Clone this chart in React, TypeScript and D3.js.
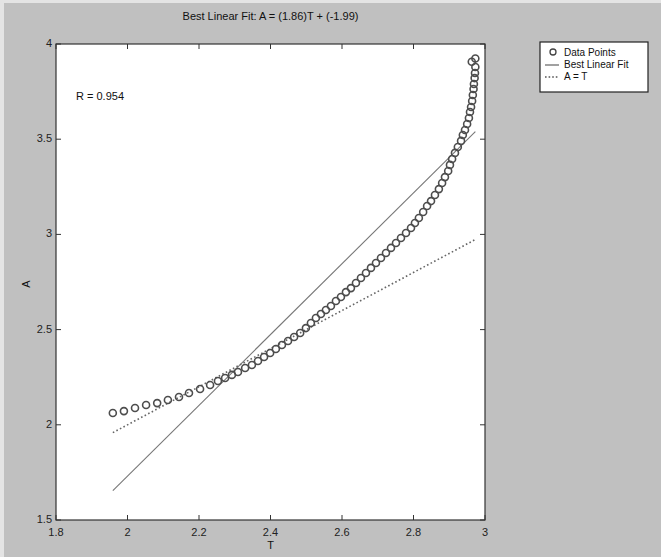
import React from "react";
import * as d3 from "d3";

// Target values T and network outputs A
const targetT = [
  1.959, 1.990, 2.021, 2.052, 2.083, 2.113, 2.144, 2.172, 2.203, 2.231,
  2.253, 2.273, 2.292, 2.309, 2.329, 2.348, 2.365, 2.382, 2.399, 2.415,
  2.432, 2.449, 2.466, 2.483, 2.499, 2.513, 2.527, 2.541, 2.555, 2.569,
  2.583, 2.597, 2.611, 2.625, 2.639, 2.653, 2.667, 2.681, 2.695, 2.709,
  2.723, 2.737, 2.751, 2.765, 2.779, 2.793, 2.804, 2.815, 2.827, 2.838,
  2.849, 2.860, 2.871, 2.880, 2.888, 2.897, 2.902, 2.908, 2.916, 2.924,
  2.933, 2.938, 2.944, 2.950, 2.955, 2.958, 2.961, 2.964, 2.966, 2.968,
  2.969, 2.971, 2.972, 2.973, 2.973, 2.963,
];
const outputA = [
  2.062, 2.072, 2.088, 2.104, 2.114, 2.130, 2.146, 2.167, 2.188, 2.209,
  2.230, 2.246, 2.262, 2.277, 2.298, 2.314, 2.335, 2.356, 2.377, 2.398,
  2.419, 2.440, 2.461, 2.482, 2.508, 2.535, 2.561, 2.582, 2.603, 2.624,
  2.650, 2.671, 2.697, 2.718, 2.745, 2.771, 2.797, 2.824, 2.850, 2.876,
  2.902, 2.929, 2.955, 2.981, 3.007, 3.034, 3.060, 3.086, 3.118, 3.149,
  3.175, 3.207, 3.238, 3.270, 3.301, 3.333, 3.365, 3.396, 3.428, 3.459,
  3.491, 3.522, 3.548, 3.580, 3.611, 3.643, 3.669, 3.701, 3.732, 3.764,
  3.790, 3.821, 3.848, 3.879, 3.924, 3.907,
];

const fitSlope = 1.86;
const fitIntercept = -1.99;
const rValue = 0.954;

const xTicks = [1.8, 2, 2.2, 2.4, 2.6, 2.8, 3];
const yTicks = [1.5, 2, 2.5, 3, 3.5, 4];
const legendItems = ["Data Points", "Best Linear Fit", "A = T"];

const W = 661;
const H = 557;
const plot = { left: 56, right: 485, top: 44, bottom: 520 };
const FONT = "'Liberation Sans', Arial, sans-serif";

export default function App() {
  const x = d3.scaleLinear().domain([1.8, 3]).range([plot.left, plot.right]);
  const y = d3.scaleLinear().domain([1.5, 4]).range([plot.bottom, plot.top]);

  const tMin = d3.min(targetT) as number;
  const tMax = d3.max(targetT) as number;
  const line = d3
    .line<[number, number]>()
    .x((d) => x(d[0]))
    .y((d) => y(d[1]));
  const fitPath = line([
    [tMin, fitSlope * tMin + fitIntercept],
    [tMax, fitSlope * tMax + fitIntercept],
  ]);
  const idPath = line([
    [tMin, tMin],
    [tMax, tMax],
  ]);

  const fmt = (v: number) => String(v);
  const tickLen = 5;
  const lx = 540;
  const ly = 42;

  return (
    <svg
      width={W}
      height={H}
      style={{ position: "absolute", left: 0, top: 0 }}
      fontFamily={FONT}
    >
      <rect x={0} y={0} width={W} height={H} fill="#e4e4e4" />
      <rect x={4} y={3} width={W - 4} height={H - 3} fill="#c0c0c0" />

      {/* axes box */}
      <rect
        x={plot.left}
        y={plot.top}
        width={plot.right - plot.left}
        height={plot.bottom - plot.top}
        fill="#ffffff"
        stroke="#333"
        strokeWidth={1.2}
      />

      {/* ticks and tick labels */}
      {xTicks.map((t) => (
        <g key={"x" + t}>
          <line x1={x(t)} x2={x(t)} y1={plot.bottom} y2={plot.bottom - tickLen} stroke="#333" />
          <line x1={x(t)} x2={x(t)} y1={plot.top} y2={plot.top + tickLen} stroke="#333" />
          <text x={x(t)} y={536} fontSize={11} textAnchor="middle" fill="#222">
            {fmt(t)}
          </text>
        </g>
      ))}
      {yTicks.map((t) => (
        <g key={"y" + t}>
          <line x1={plot.left} x2={plot.left + tickLen} y1={y(t)} y2={y(t)} stroke="#333" />
          <line x1={plot.right} x2={plot.right - tickLen} y1={y(t)} y2={y(t)} stroke="#333" />
          <text x={plot.left - 4} y={y(t) + 3} fontSize={11} textAnchor="end" fill="#222">
            {fmt(t)}
          </text>
        </g>
      ))}

      <text x={(plot.left + plot.right) / 2} y={20} fontSize={11} textAnchor="middle" fill="#111">
        {`Best Linear Fit: A = (${fitSlope})T + (${fitIntercept})`}
      </text>
      <text x={(plot.left + plot.right) / 2} y={549} fontSize={11} textAnchor="middle" fill="#111">
        T
      </text>
      <text
        transform={`translate(30, ${(plot.top + plot.bottom) / 2 + 2}) rotate(-90)`}
        fontSize={11}
        textAnchor="middle"
        fill="#111"
      >
        A
      </text>

      <text x={76} y={100} fontSize={11} fill="#111">
        {`R = ${rValue}`}
      </text>

      {/* fitted line and identity line */}
      <path d={fitPath || ""} fill="none" stroke="#777" strokeWidth={1.1} />
      <path
        d={idPath || ""}
        fill="none"
        stroke="#666"
        strokeWidth={1.6}
        strokeDasharray="1.6 2.4"
      />

      {/* data points */}
      {targetT.map((t, i) => (
        <circle
          key={i}
          cx={x(t)}
          cy={y(outputA[i])}
          r={3.5}
          fill="none"
          stroke="#4d4d4d"
          strokeWidth={1.6}
        />
      ))}

      {/* legend */}
      <rect x={lx} y={ly} width={108} height={50} fill="#fff" stroke="#222" strokeWidth={1.2} />
      <circle cx={lx + 13} cy={ly + 10} r={3} fill="none" stroke="#444" strokeWidth={1.3} />
      <line x1={lx + 5} x2={lx + 19} y1={ly + 23} y2={ly + 23} stroke="#555" strokeWidth={1.1} />
      <line
        x1={lx + 5}
        x2={lx + 19}
        y1={ly + 35}
        y2={ly + 35}
        stroke="#555"
        strokeWidth={1.4}
        strokeDasharray="1.6 2"
      />
      {legendItems.map((label, i) => (
        <text key={label} x={lx + 24} y={ly + 14 + i * 12} fontSize={10} fill="#111">
          {label}
        </text>
      ))}
    </svg>
  );
}
